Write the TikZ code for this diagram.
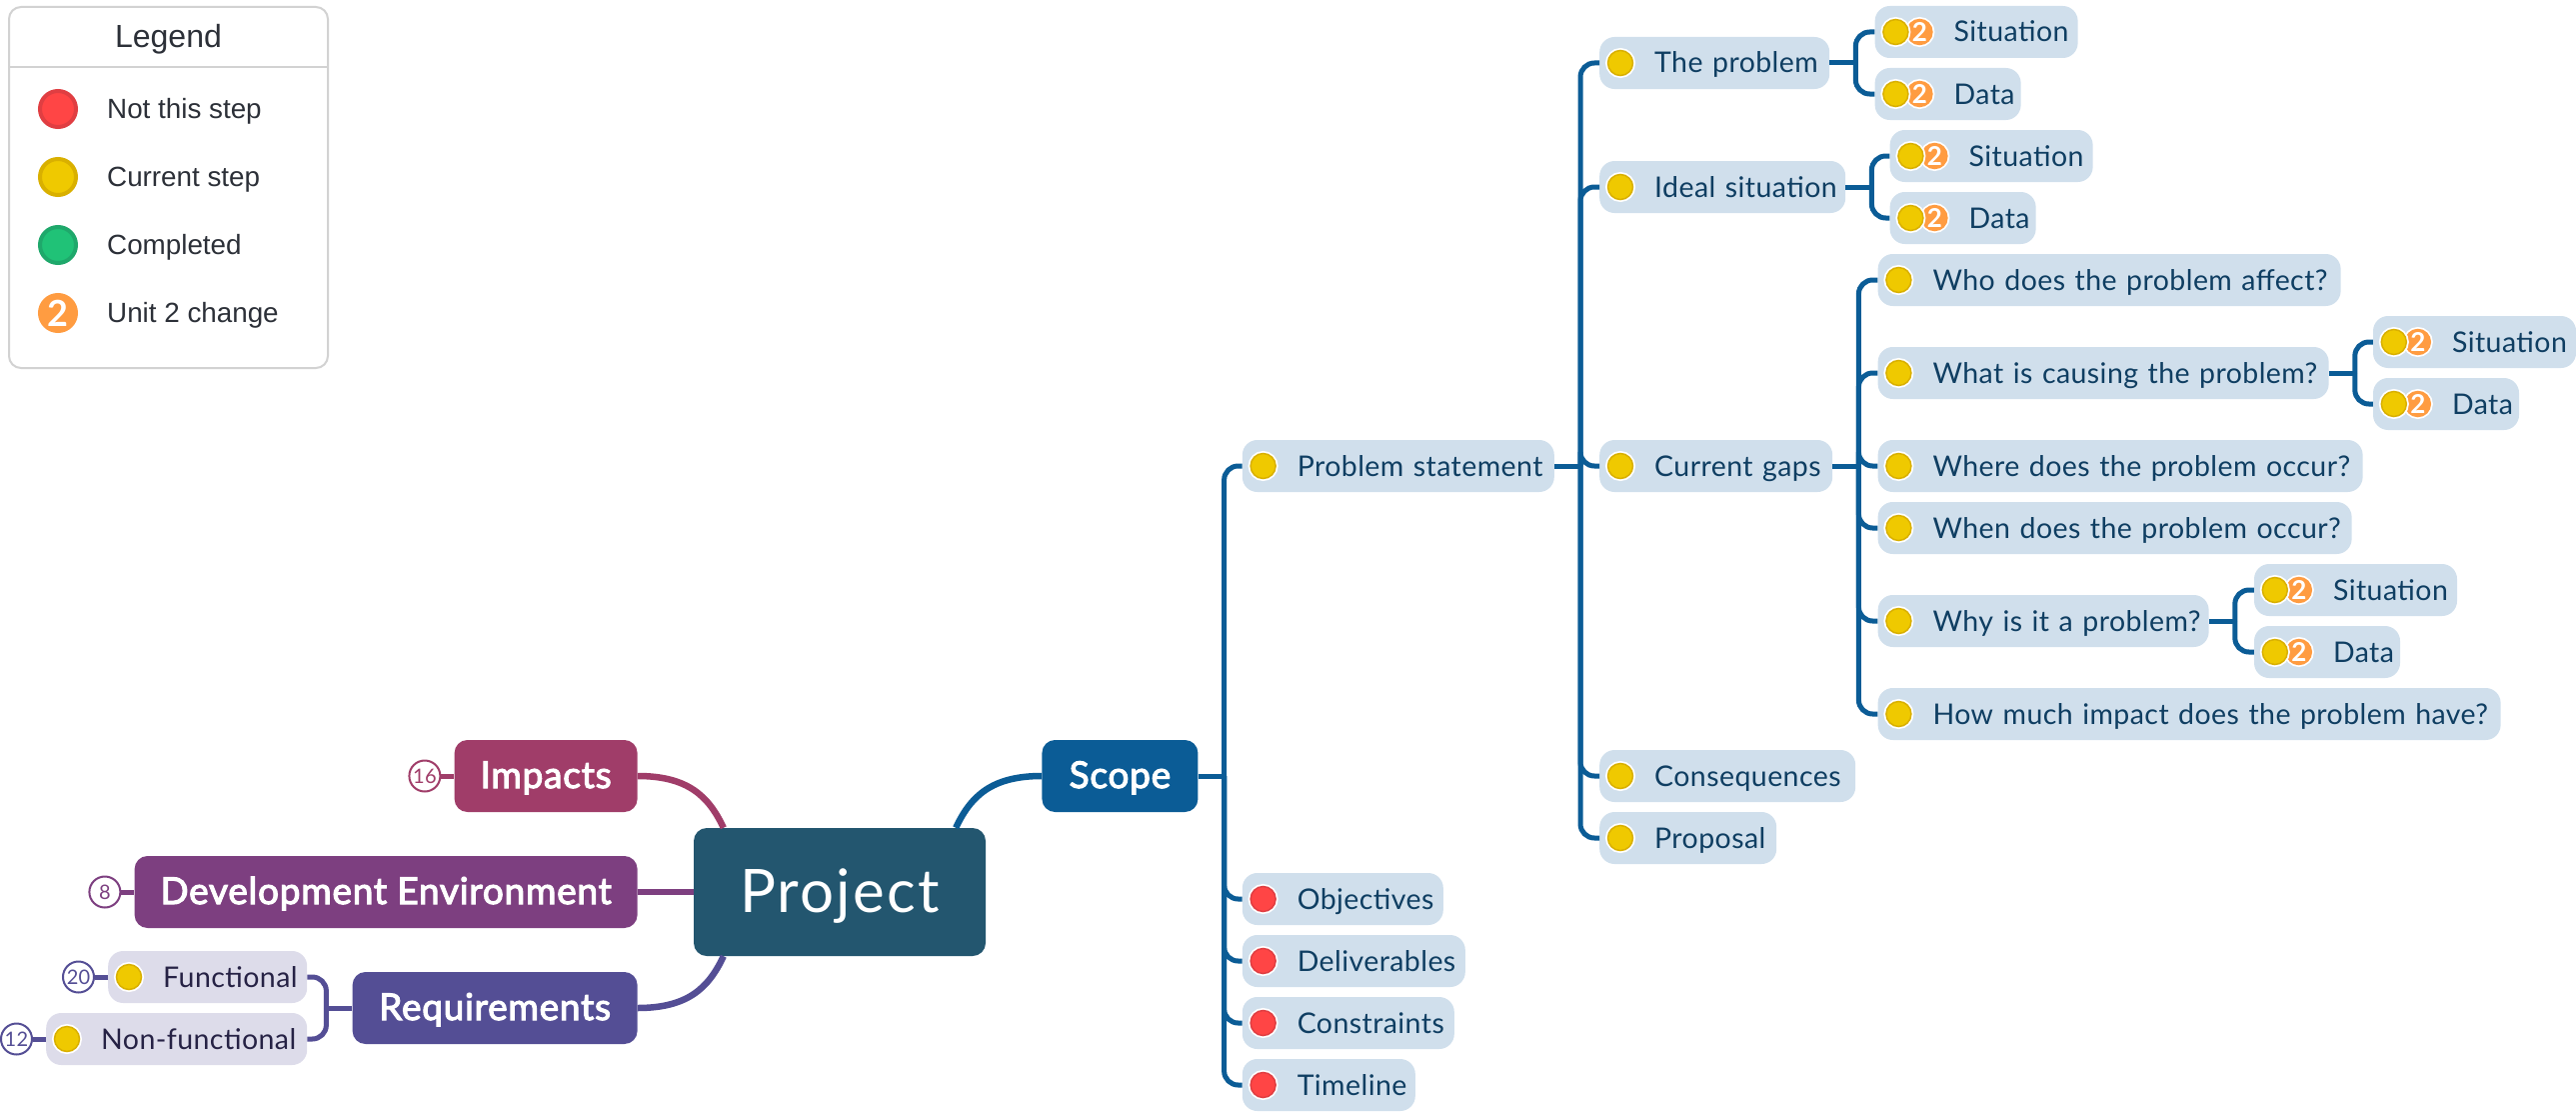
\documentclass[tikz,border=0pt]{standalone}
\usepackage{fontspec}
\usepackage{tikz}
\usetikzlibrary{arrows.meta,positioning,calc}
\setmainfont[LetterSpace=1.5]{Lato}
\newfontfamily\legendfont{Liberation Sans}
\newfontfamily\headfont[RawFeature={embolden=3},LetterSpace=2.0]{Lato}
\newfontfamily\titlefont[LetterSpace=3.8]{Lato}
\newfontfamily\twofont{Lato}
\definecolor{softblue}{HTML}{D0DFEC}
\definecolor{softlilac}{HTML}{DDDCEA}
\definecolor{inkblue}{HTML}{0F3E62}
\definecolor{inklilac}{HTML}{262245}
\definecolor{projectteal}{HTML}{23566F}
\definecolor{scopeblue}{HTML}{0B5C96}
\definecolor{impactrose}{HTML}{A03D69}
\definecolor{devpurple}{HTML}{7D3F80}
\definecolor{reqindigo}{HTML}{544E95}
\definecolor{stepyellow}{HTML}{EFC900}
\definecolor{stepyellowdark}{HTML}{D9B000}
\definecolor{stepred}{HTML}{FF4545}
\definecolor{stepreddark}{HTML}{E03E42}
\definecolor{stepgreen}{HTML}{20C277}
\definecolor{stepgreendark}{HTML}{1FA86B}
\definecolor{steporange}{HTML}{FF9C41}
\definecolor{legendline}{HTML}{D2D2D2}
\definecolor{legendink}{HTML}{2C3038}

\begin{document}
\begin{tikzpicture}[
      x=1pt,y=-1pt,
      branch/.style={rounded corners=13pt,minimum height=72pt,inner xsep=0pt,inner ysep=0pt,text=white,font=\headfont\fontsize{37}{40}\selectfont,text height=24pt,text depth=0pt},
      leaf/.style={fill=softblue,rounded corners=15pt,minimum height=52pt,inner ysep=0pt,inner xsep=3pt,text width=#1pt-6pt,align=left,font=\fontsize{28.5}{30}\selectfont,text=inkblue,text height=20pt,text depth=0pt,execute at begin node={\hyphenpenalty=10000\relax\hspace*{52pt}}},
      leaftwo/.style={leaf=#1,execute at begin node=\hspace*{24pt}},
      leafreq/.style={leaf=#1,fill=softlilac,text=inklilac},
      link/.style={draw=scopeblue,line width=5pt,rounded corners=14pt},
      trunk/.style={line width=6.5pt},
      dot/.style={circle,fill=stepyellow,draw=stepyellowdark,line width=1.5pt,minimum size=25pt,inner sep=0pt,preaction={draw=white,line width=5pt}},
      reddot/.style={dot,fill=stepred,draw=stepreddark},
      twodot/.style={dot,fill=steporange,draw=steporange,text=white,font=\twofont\bfseries\fontsize{26}{26}\selectfont},
      count/.style={circle,fill=white,draw=#1,line width=2pt,minimum size=31pt,inner sep=0pt,text=#1,font=\fontsize{20}{20}\selectfont},
      legenddot/.style={circle,line width=4pt,minimum size=36pt,inner sep=0pt},
      legendtext/.style={anchor=base west,inner sep=0pt,font=\legendfont\fontsize{27.8}{30}\selectfont,text=legendink}
    ]
    \useasboundingbox (0,0) rectangle (2577,1116);

    \node[draw=legendline,line width=2pt,rounded corners=12pt,fill=white,minimum width=319pt,minimum height=361pt,inner sep=0pt] (legend) at (168.5,187.5) {};
    \node[anchor=base,inner sep=0pt,font=\legendfont\fontsize{32}{34}\selectfont,text=legendink] (legendtitle) at (168.5,48) {Legend};
    \draw[legendline,line width=2pt] (legend.west |- 0,67) coordinate (rulea) -- (legend.east |- 0,67) coordinate (ruleb);
    \node[legenddot,fill=stepred,draw=stepreddark] (lred) at (58,109) {};
    \node[legenddot,fill=stepyellow,draw=stepyellowdark] (lyellow) at (58,177) {};
    \node[legenddot,fill=stepgreen,draw=stepgreendark] (lgreen) at (58,245) {};
    \node[legenddot,fill=steporange,draw=steporange,text=white,font=\twofont\bfseries\fontsize{36}{36}\selectfont] (ltwo) at (58,313) {2};
    \node[legendtext] (tred) at (107,118) {Not this step};
    \node[legendtext] (tyellow) at (107,186) {Current step};
    \node[legendtext] (tgreen) at (107,254) {Completed};
    \node[legendtext] (ttwo) at (107,322) {Unit 2 change};

    \node[branch,fill=projectteal,minimum width=292pt,minimum height=128pt,font=\titlefont\fontsize{60}{66}\selectfont,text height=40pt] (project) at (840,892) {Project};
    \node[branch,fill=impactrose,minimum width=183pt,left=56pt of project,yshift=116pt] (impacts) {Impacts};
    \node[branch,fill=devpurple,minimum width=503pt,left=56pt of project] (devenv) {Development Environment};
    \node[branch,fill=reqindigo,minimum width=285pt,left=56pt of project,yshift=-116pt] (requirements) {Requirements};
    \node[branch,fill=scopeblue,minimum width=156pt,right=56pt of project,yshift=116pt] (scope) {Scope};

    \node[leafreq=199,left=45pt of requirements,yshift=31pt] (functional) {Functional};
    \node[leafreq=261,left=45pt of requirements,yshift=-31pt] (nonfunctional) {Non-functional};
    \node[count=impactrose,left=13pt of impacts] (cimpacts) {16};
    \node[count=devpurple,left=13pt of devenv] (cdevenv) {8};
    \node[count=reqindigo,left=13pt of functional] (cfunctional) {20};
    \node[count=reqindigo,left=13pt of nonfunctional] (cnonfunctional) {12};

    \node[leaf=312,right=44pt of scope,yshift=310pt] (statement) {Problem statement};
    \node[leaf=201,right=44pt of scope,yshift=-123pt] (objectives) {Objectives};
    \node[leaf=223,right=44pt of scope,yshift=-185pt] (deliverables) {Deliverables};
    \node[leaf=212,right=44pt of scope,yshift=-247pt] (constraints) {Constraints};
    \node[leaf=173,right=44pt of scope,yshift=-309pt] (timeline) {Timeline};

    \node[leaf=230,right=45pt of statement,yshift=403pt] (theproblem) {The problem};
    \node[leaf=246,right=45pt of statement,yshift=279pt] (ideal) {Ideal situation};
    \node[leaf=233,right=45pt of statement] (gaps) {Current gaps};
    \node[leaf=256,right=45pt of statement,yshift=-310pt] (consequences) {Consequences};
    \node[leaf=177,right=45pt of statement,yshift=-372pt] (proposal) {Proposal};

    \node[leaftwo=203,right=45pt of theproblem,yshift=31pt] (sita) {Situation};
    \node[leaftwo=146,right=45pt of theproblem,yshift=-31pt] (dataa) {Data};
    \node[leaftwo=203,right=44pt of ideal,yshift=31pt] (sitb) {Situation};
    \node[leaftwo=146,right=44pt of ideal,yshift=-31pt] (datab) {Data};

    \node[leaf=463,right=45pt of gaps,yshift=186pt] (who) {Who does the problem affect?};
    \node[leaf=451,right=45pt of gaps,yshift=93pt] (what) {What is causing the problem?};
    \node[leaf=485,right=45pt of gaps] (where) {Where does the problem occur?};
    \node[leaf=474,right=45pt of gaps,yshift=-62pt] (when) {When does the problem occur?};
    \node[leaf=331,right=45pt of gaps,yshift=-155pt] (why) {Why is it a problem?};
    \node[leaf=623,right=45pt of gaps,yshift=-248pt] (how) {How much impact does the problem have?};

    \node[leaftwo=203,right=44pt of what,yshift=31pt] (sitc) {Situation};
    \node[leaftwo=146,right=44pt of what,yshift=-31pt] (datac) {Data};
    \node[leaftwo=203,right=45pt of why,yshift=31pt] (sitd) {Situation};
    \node[leaftwo=146,right=45pt of why,yshift=-31pt] (datad) {Data};

    \draw[link,draw=impactrose,trunk] (impacts.east) .. controls +(50,0) and +(-15,-32) .. ([xshift=30pt]project.north west);
    \draw[link,draw=devpurple,trunk] (devenv.east) -- (devenv.east -| project.west);
    \draw[link,draw=reqindigo,trunk] (requirements.east) .. controls +(50,0) and +(-15,32) .. ([xshift=30pt]project.south west);
    \draw[link,trunk] (scope.west) .. controls +(-50,0) and +(15,-32) .. ([xshift=-30pt]project.north east);

    \draw[link,draw=impactrose] (cimpacts) -- (impacts);
    \draw[link,draw=devpurple] (cdevenv) -- (devenv);
    \draw[link,draw=reqindigo] (cfunctional) -- (functional);
    \draw[link,draw=reqindigo] (cnonfunctional) -- (nonfunctional);
    \draw[link,draw=reqindigo] (requirements.west) -- ++(-26pt,0) coordinate (jreq);
    \foreach \kid in {functional,nonfunctional}
      \draw[link,draw=reqindigo] (jreq) |- (\kid.east);

    \draw[link] (scope.east) -- ++(26pt,0) coordinate (jscope);
    \foreach \kid in {statement,objectives,deliverables,constraints,timeline}
      \draw[link] (jscope) |- (\kid.west);
    \draw[link] (statement.east) -- ++(26pt,0) coordinate (jstatement);
    \foreach \kid in {theproblem,ideal,gaps,consequences,proposal}
      \draw[link] (jstatement) |- (\kid.west);
    \draw[link] (gaps.east) -- ++(26pt,0) coordinate (jgaps);
    \foreach \kid in {who,what,where,when,why,how}
      \draw[link] (jgaps) |- (\kid.west);
    \foreach \up/\kida/\kidb in {theproblem/sita/dataa,ideal/sitb/datab,what/sitc/datac,why/sitd/datad}{
      \draw[link] (\up.east) -- ++(26pt,0) coordinate (jup);
      \draw[link] (jup) |- (\kida.west);
      \draw[link] (jup) |- (\kidb.west);
    }

    \foreach \leafname in {functional,nonfunctional,statement,gaps,theproblem,ideal,consequences,proposal,who,what,where,when,why,how}
      \node[dot] (dot\leafname) at ([xshift=21pt]\leafname.west) {};
    \foreach \leafname in {objectives,deliverables,constraints,timeline}
      \node[reddot] (dot\leafname) at ([xshift=21pt]\leafname.west) {};
    \foreach \leafname in {sita,dataa,sitb,datab,sitc,datac,sitd,datad}{
      \node[twodot] (two\leafname) at ([xshift=45pt]\leafname.west) {2};
      \node[dot] (dot\leafname) at ([xshift=21pt]\leafname.west) {};
    }
  \end{tikzpicture}
\end{document}
